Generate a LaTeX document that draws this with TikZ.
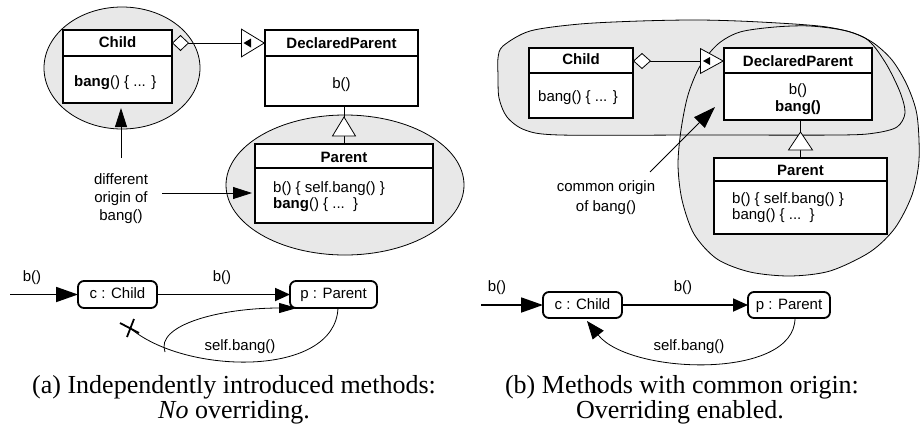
\documentclass[tikz,border=0pt]{standalone}
\usepackage{fontspec}
\setmainfont{Liberation Serif}
\setsansfont{Liberation Sans}
\usetikzlibrary{arrows.meta,calc}
\definecolor{blobgray}{RGB}{232,232,232}
\begin{document}
\begin{tikzpicture}[x=1pt,y=-1pt,
  cls/.style={draw,line width=1.8pt,fill=white,anchor=north west,inner sep=0pt,outer sep=0pt},
  obj/.style={draw,line width=1.8pt,fill=white,rounded corners=6pt,inner sep=0pt,outer sep=0pt,
    font=\sffamily\fontsize{15}{18}\selectfont,text height=11pt,text depth=3pt},
  sepline/.style={line width=1.8pt},
  txt/.style={font=\sffamily\fontsize{15}{18}\selectfont,inner sep=0pt,anchor=base},
  txtl/.style={txt,anchor=base west},
  captext/.style={font=\fontsize{26}{30}\selectfont,inner sep=0pt,anchor=base},
  thinline/.style={line width=0.8pt},
  blobline/.style={draw=black,line width=0.8pt},
  bigarr/.style={line width=1.8pt,-{Triangle[length=22pt,width=15pt]}},
  medarr/.style={line width=1.8pt,-{Triangle[length=15pt,width=13pt]}},
  ptrarr/.style={line width=0.8pt,-{Triangle[length=19pt,width=12pt]}},
  aggrA/.style={line width=0.8pt,{Diamond[fill=white,length=17pt,width=16pt]}-{Triangle[fill=white,length=24pt,width=29pt]}},
  aggrB/.style={line width=0.8pt,{Diamond[fill=white,length=18pt,width=16pt]}-{Triangle[fill=white,length=24pt,width=26pt]}}
]
\useasboundingbox (0,0) rectangle (920,437);

% ---------------- panel (a) ----------------
\fill[blobgray] (122,68) ellipse [x radius=78, y radius=61];
\draw[blobline] (122,68) ellipse [x radius=78, y radius=61];
\fill[blobgray] (345,185) ellipse [x radius=119, y radius=70];
\draw[blobline] (345,185) ellipse [x radius=119, y radius=70];

\node[cls,minimum width=109pt,minimum height=73pt] (childA) at (63,30) {};
\draw[sepline] ([yshift=-26pt]childA.north west) -- ([yshift=-26pt]childA.north east);
\node[txt] (childAt) at (117.5,47) {\bfseries Child};
\node[txtl] (childAb) at (74,86) {\textbf{bang}() \{ ... \}};

\node[cls,minimum width=153pt,minimum height=76pt] (dpA) at (265,30) {};
\draw[sepline] ([yshift=-26pt]dpA.north west) -- ([yshift=-26pt]dpA.north east);
\node[txt] (dpAt) at (341.5,48) {\bfseries DeclaredParent};
\node[txt] (dpAb) at (341.5,88) {b()};

\node[cls,minimum width=178pt,minimum height=79pt] (pA) at (255,144) {};
\draw[sepline] ([yshift=-24pt]pA.north west) -- ([yshift=-24pt]pA.north east);
\node[txt] (pAt) at (344,162) {\bfseries Parent};
\node[txtl] (pAb1) at (273,192) {b() \{ self.bang() \}};
\node[txtl] (pAb2) at (273,208) {\textbf{bang}() \{ ...\ \ \}};

\draw[aggrA] ([yshift=-13pt]childA.north east) -- ([yshift=-13pt]dpA.north west);
\fill ($(dpA.north west)+(-21.5,13)$) -- ++(7.5,-4.5) -- ++(0,9) -- cycle;

\draw[thinline] (pA.north) -- (pA.north |- dpA.south);
\draw[thinline,fill=white] ($(pA.north |- dpA.south)+(0,11)$) -- ++(11.5,19) -- ++(-23,0) -- cycle;

\node[txt] (diffA1) at (121,184) {different};
\node[txt] (diffA2) at (121,202) {origin of};
\node[txt] (diffA3) at (121,220) {bang()};
\coordinate (upS) at (121,158);
\draw[ptrarr,shorten >=5pt] (upS) -- (upS |- childA.south);
\coordinate (rtS) at (162,193);
\draw[ptrarr,shorten >=3pt] (rtS) -- (rtS -| pA.west);

\coordinate (inA) at (10,294.5);
\node[obj,minimum width=79pt,minimum height=27pt] (cA) at (117.5,294.5) {c : Child};
\node[obj,minimum width=87pt,minimum height=27pt] (pAo) at (333.5,294.5) {p : Parent};
\draw[bigarr] (inA) -- (cA.west);
\draw[medarr] (cA.east) -- (pAo.west);
\node[txt] (bInA) at (32,281) {b()};
\node[txt] (bMidA) at (222,281) {b()};

\coordinate (xA) at (130,328);
\coordinate (brA) at (165,352);
\draw[thinline] ([xshift=4.5pt]pAo.south) .. controls (335,378) and (185,375) .. (xA);
\draw[line width=1.8pt] ($(xA)+(-10,-5)$) -- ($(xA)+(9,5)$);
\draw[line width=1.8pt] ($(xA)+(-3,9)$) -- ($(xA)+(4,-9)$);
\draw[thinline,-{Triangle[length=18pt,width=10pt]}] (brA) .. controls (155,325) and (220,308) .. ([xshift=7pt]pAo.south west);
\node[txt] (sbA) at (240,350) {self.bang()};

\node[captext] (capA1) at (234,393) {(a) Independently introduced methods:};
\node[captext] (capA2) at (234,418) {\textit{No} overriding.};

% ---------------- panel (b) ----------------
\fill[blobgray] plot[smooth cycle] coordinates {(503,46) (530,31) (580,24) (640,21) (700,20) (760,22) (827,27) (865,38) (885,62) (900,92) (905,113) (897,127) (875,133) (840,135) (700,135) (560,135) (525,130) (507,117) (499,98) (498,75) (498,58)};
\fill[blobgray] plot[smooth cycle] coordinates {(718,44) (740,32) (775,27) (810,26) (847,31) (872,42) (892,60) (907,85) (917,115) (919,160) (912,195) (895,228) (870,252) (830,271) (790,276) (750,272) (717,259) (694,234) (682,200) (678,165) (681,130) (688,95) (700,66)};
\draw[blobline] plot[smooth cycle] coordinates {(503,46) (530,31) (580,24) (640,21) (700,20) (760,22) (827,27) (865,38) (885,62) (900,92) (905,113) (897,127) (875,133) (840,135) (700,135) (560,135) (525,130) (507,117) (499,98) (498,75) (498,58)};
\draw[blobline] plot[smooth cycle] coordinates {(718,44) (740,32) (775,27) (810,26) (847,31) (872,42) (892,60) (907,85) (917,115) (919,160) (912,195) (895,228) (870,252) (830,271) (790,276) (750,272) (717,259) (694,234) (682,200) (678,165) (681,130) (688,95) (700,66)};

\node[cls,minimum width=104pt,minimum height=70pt] (childB) at (529,48) {};
\draw[sepline] ([yshift=-25pt]childB.north west) -- ([yshift=-25pt]childB.north east);
\node[txt] (childBt) at (581,64) {\bfseries Child};
\node[txtl] (childBb) at (538,101) {bang() \{ ... \}};

\node[cls,minimum width=148pt,minimum height=72pt] (dpB) at (724,48) {};
\draw[sepline] ([yshift=-25pt]dpB.north west) -- ([yshift=-25pt]dpB.north east);
\node[txt] (dpBt) at (798,66) {\bfseries DeclaredParent};
\node[txt] (dpBb1) at (798,94) {b()};
\node[txt] (dpBb2) at (798,111.5) {\bfseries bang()};

\node[cls,minimum width=173pt,minimum height=76pt] (pB) at (714,158) {};
\draw[sepline] ([yshift=-23pt]pB.north west) -- ([yshift=-23pt]pB.north east);
\node[txt] (pBt) at (800.5,175) {\bfseries Parent};
\node[txtl] (pBb1) at (732,203.5) {b() \{ self.bang() \}};
\node[txtl] (pBb2) at (732,219.5) {bang() \{ ...\ \ \}};

\draw[aggrB] ([yshift=-13pt]childB.north east) -- ([yshift=-13pt]dpB.north west);
\fill ($(dpB.north west)+(-21,13)$) -- ++(7,-4) -- ++(0,8) -- cycle;

\draw[thinline] (pB.north) -- (pB.north |- dpB.south);
\draw[thinline,fill=white] ($(pB.north |- dpB.south)+(0,12)$) -- ++(12,18) -- ++(-24,0) -- cycle;

\node[txt] (comB1) at (606,191.5) {common origin};
\node[txt] (comB2) at (606,211) {of bang()};
\coordinate (cmS) at (650,172);
\draw[line width=0.8pt,-{Triangle[length=22pt,width=15pt]}] (cmS) -- ($(dpB.south west)+(-9,-13)$);

\coordinate (inB) at (481,305);
\node[obj,minimum width=79pt,minimum height=26pt] (cB) at (582.5,305) {c : Child};
\node[obj,minimum width=82pt,minimum height=26pt] (pBo) at (789,305) {p : Parent};
\draw[bigarr] (inB) -- (cB.west);
\draw[medarr] (cB.east) -- (pBo.west);
\node[txt] (bInB) at (497,291) {b()};
\node[txt] (bMidB) at (683,291) {b()};
\draw[thinline,-{Triangle[length=18pt,width=14pt]}] ([xshift=6pt]pBo.south) .. controls (795,380) and (630,375) .. ([xshift=4.5pt,yshift=-3pt]cB.south);
\node[txt] (sbB) at (689,350) {self.bang()};

\node[captext] (capB1) at (682,393) {(b) Methods with common origin:};
\node[captext] (capB2) at (680,418) {Overriding enabled.};
\end{tikzpicture}
\end{document}
